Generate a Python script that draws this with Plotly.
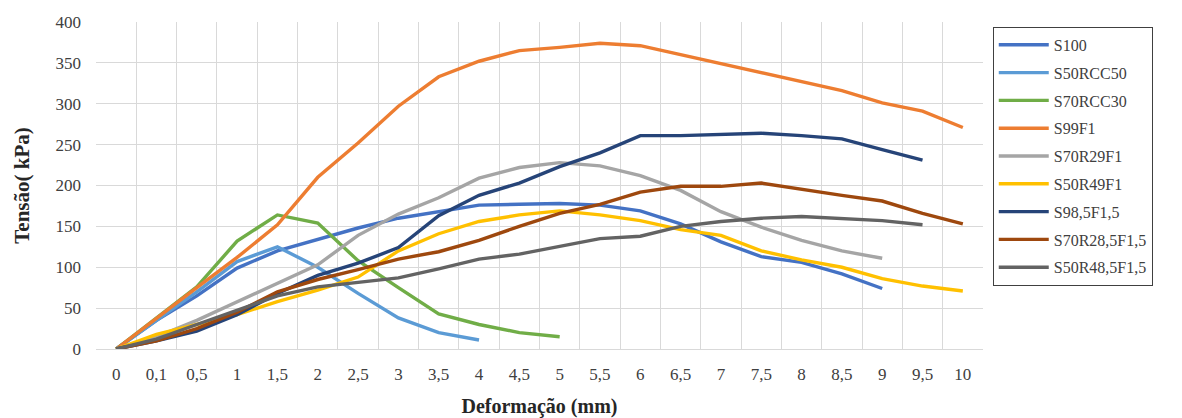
import plotly.graph_objects as go

# Deformation steps (mm), shown as categories
deformacao = ["0", "0,1", "0,5", "1", "1,5", "2", "2,5", "3", "3,5", "4", "4,5",
              "5", "5,5", "6", "6,5", "7", "7,5", "8", "8,5", "9", "9,5", "10"]

# Stress (kPa) per mixture
s100 = [0, 35, 65, 99, 120, 134, 148, 160, 168, 176, 177, 178, 176, 169, 153, 131, 113, 106, 92, 74]
s50rcc50 = [0, 35, 70, 107, 125, 100, 68, 38, 20, 11]
s70rcc30 = [0, 38, 76, 132, 164, 154, 108, 75, 43, 30, 20, 15]
s99f1 = [0, 38, 75, 112, 152, 210, 252, 297, 333, 352, 365, 369, 374, 371, 360, 349, 338, 326, 316, 301, 291, 271]
s70r29f1 = [0, 15, 35, 58, 80, 103, 139, 165, 185, 209, 222, 228, 224, 212, 194, 168, 149, 133, 120, 111]
s50r49f1 = [0, 18, 30, 42, 58, 72, 88, 120, 141, 156, 164, 169, 164, 157, 146, 139, 120, 109, 100, 86, 77, 71]
s98_5f1_5 = [0, 10, 22, 42, 68, 90, 105, 124, 163, 188, 203, 223, 240, 261, 261, 263, 264, 261, 257, 244, 231]
s70r28_5f1_5 = [0, 10, 25, 45, 70, 85, 97, 110, 119, 133, 150, 166, 177, 192, 199, 199, 203, 195, 188, 181, 166, 153]
s50r48_5f1_5 = [0, 12, 30, 47, 65, 76, 82, 87, 98, 110, 116, 125, 135, 138, 150, 156, 160, 162, 160, 157, 152]

series = [
    ("S100", s100, "#4472C4"),
    ("S50RCC50", s50rcc50, "#5B9BD5"),
    ("S70RCC30", s70rcc30, "#70AD47"),
    ("S99F1", s99f1, "#ED7D31"),
    ("S70R29F1", s70r29f1, "#A5A5A5"),
    ("S50R49F1", s50r49f1, "#FFC000"),
    ("S98,5F1,5", s98_5f1_5, "#264478"),
    ("S70R28,5F1,5", s70r28_5f1_5, "#9E480E"),
    ("S50R48,5F1,5", s50r48_5f1_5, "#636363"),
]

serif = "'Liberation Serif', 'Times New Roman', 'DejaVu Serif', serif"

fig = go.Figure()
for i, (name, vals, color) in enumerate(series):
    fig.add_trace(go.Scatter(
        x=deformacao[:len(vals)], y=vals, name=name, mode="lines",
        line=dict(color=color, width=3.4),
        legendgroup=f"g{i}",
    ))

fig.update_layout(
    width=1182, height=418,
    margin=dict(l=96, r=199, t=22, b=69),
    paper_bgcolor="white", plot_bgcolor="white",
    font=dict(family=serif, size=17, color="#404040"),
    showlegend=True,
    legend=dict(
        x=1.011, y=0.985, xanchor="left", yanchor="top",
        bordercolor="#404040", borderwidth=1,
        font=dict(family=serif, size=16, color="#404040"),
        tracegroupgap=4,
        itemwidth=50,
        entrywidth=128, entrywidthmode="pixels",
        maxheight=400,
    ),
    xaxis=dict(
        type="category", categoryorder="array", categoryarray=deformacao,
        range=[-0.5, 21.5],
        tickson="boundaries",
        showgrid=True, gridcolor="#D9D9D9", gridwidth=1.3,
        showline=True, linecolor="#D9D9D9", linewidth=1.3,
        ticks="", ticklabelstandoff=9,
        tickfont=dict(family=serif, size=17, color="#404040"),
        title=dict(text="<b>Deformação (mm)</b>", standoff=18,
                   font=dict(family=serif, size=20, color="#262626")),
        zeroline=False, mirror=False, automargin=False,
    ),
    yaxis=dict(
        range=[0, 400], dtick=50,
        showgrid=True, gridcolor="#D9D9D9", gridwidth=1.3,
        showline=False, zeroline=False,
        ticks="", ticklabelstandoff=14,
        tickfont=dict(family=serif, size=17, color="#404040"),
        title=dict(text="<b>Tensão( kPa)</b>", standoff=20,
                   font=dict(family=serif, size=21, color="#262626")),
        automargin=False,
    ),
)

fig.write_html("out.html")
